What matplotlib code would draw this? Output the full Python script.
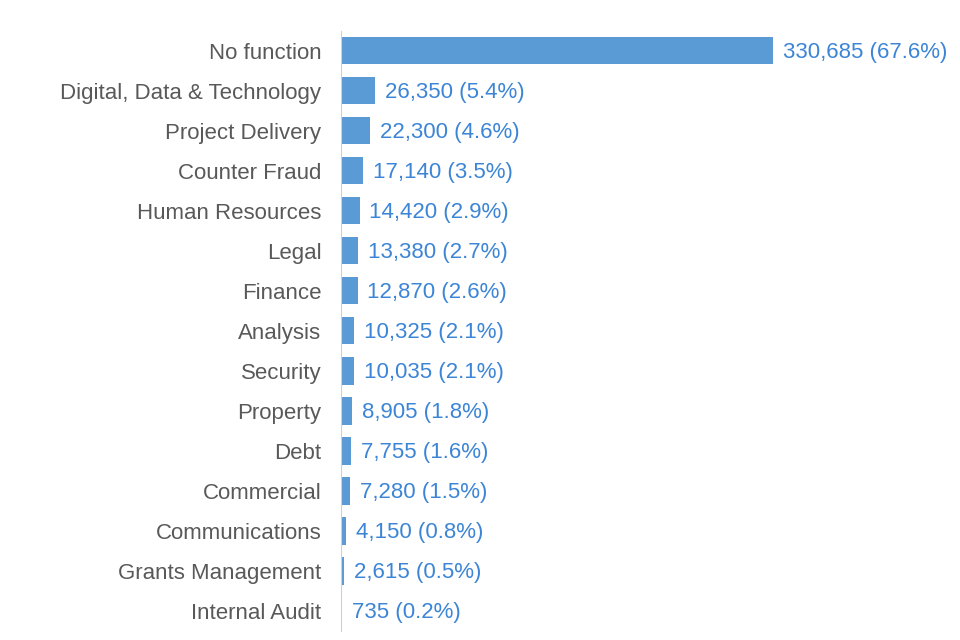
import matplotlib.pyplot as plt

functions = ["No function", "Digital, Data & Technology", "Project Delivery",
             "Counter Fraud", "Human Resources", "Legal", "Finance", "Analysis",
             "Security", "Property", "Debt", "Commercial", "Communications",
             "Grants Management", "Internal Audit"]
headcount = [330685, 26350, 22300, 17140, 14420, 13380, 12870, 10325,
             10035, 8905, 7755, 7280, 4150, 2615, 735]
percent = [67.6, 5.4, 4.6, 3.5, 2.9, 2.7, 2.6, 2.1, 2.1, 1.8, 1.6, 1.5, 0.8, 0.5, 0.2]

plt.rcParams['font.family'] = ['Liberation Sans', 'DejaVu Sans']

fig = plt.figure(figsize=(9.6, 6.4), dpi=100)
ax = fig.add_axes([0.355, 0.014, 0.615, 0.938])

ypos = list(range(len(functions)))
ax.barh(ypos, headcount, height=0.68, color="#5B9BD5")
for y, v, p in zip(ypos, headcount, percent):
    ax.text(v + 7500, y + 0.04, f"{v:,} ({p}%)", va="center", ha="left",
            fontsize=16, color="#3C85D6")

ax.set_yticks(ypos)
ax.set_yticklabels(functions, fontsize=16, color="#595959")
for t in ax.get_yticklabels():
    t.set_y(t.get_position()[1])
ax.tick_params(axis="y", length=0, pad=14)
ax.set_ylim(len(functions) - 0.5, -0.5)
ax.set_xlim(0, 451600)
ax.set_xticks([])
for s in ["top", "right", "bottom"]:
    ax.spines[s].set_visible(False)
ax.spines["left"].set_color("#D0D0D0")

fig.savefig("out.png", dpi=100)
